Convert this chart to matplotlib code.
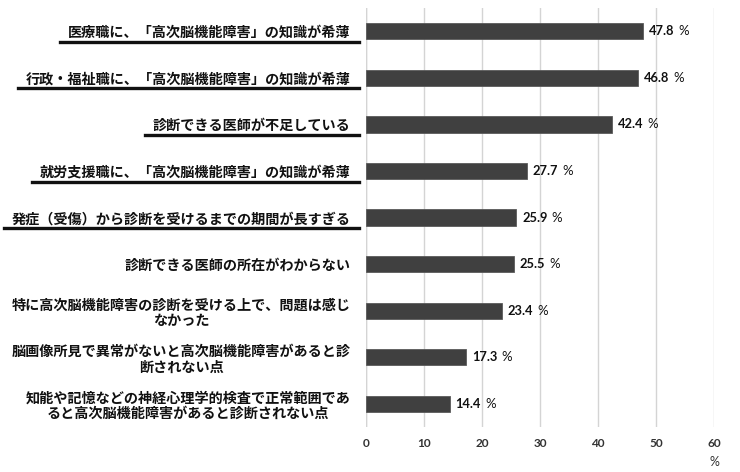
import matplotlib
matplotlib.use("Agg")
import matplotlib.pyplot as plt
from matplotlib.lines import Line2D

categories = [
    "医療職に、「高次脳機能障害」の知識が希薄",
    "行政・福祉職に、「高次脳機能障害」の知識が希薄",
    "診断できる医師が不足している",
    "就労支援職に、「高次脳機能障害」の知識が希薄",
    "発症（受傷）から診断を受けるまでの期間が長すぎる",
    "診断できる医師の所在がわからない",
    "特に高次脳機能障害の診断を受ける上で、問題は感じ\nなかった",
    "脳画像所見で異常がないと高次脳機能障害があると診\n断されない点",
    "知能や記憶などの神経心理学的検査で正常範囲であ\nると高次脳機能障害があると診断されない点",
]
values = [47.8, 46.8, 42.4, 27.7, 25.9, 25.5, 23.4, 17.3, 14.4]
underlined = [True, True, True, True, True, False, False, False, False]
xticks = [0, 10, 20, 30, 40, 50, 60]

plt.rcParams['font.family'] = ['Noto Sans CJK JP', 'DejaVu Sans']

fig = plt.figure(figsize=(7.4, 4.72), dpi=100)
ax = fig.add_axes([0.4946, 0.095, 0.4704, 0.888])

ypos = list(range(len(categories)))
ax.barh(ypos, values, height=0.35, color="#404040", edgecolor="#5a5a5a", linewidth=0.6, zorder=3)

ax.set_xlim(0, 60)
ax.set_ylim(len(categories) - 0.5, -0.5)
ax.set_xticks(xticks)
ax.set_xticklabels([str(t) for t in xticks], fontfamily=['Lato', 'DejaVu Sans'],
                   fontweight='bold', fontsize=8.5, color="#333333")
ax.tick_params(axis='x', length=0, pad=8)
ax.grid(axis='x', color="#d4d4d4", linewidth=1.0, zorder=0)
for s in ax.spines.values():
    s.set_visible(False)
ax.axvline(0, color="#d4d4d4", linewidth=1.0, zorder=1)

ax.set_yticks(ypos)
ax.set_yticklabels(categories, fontsize=10.2, fontweight='bold', color="#111111",
                   multialignment='center', linespacing=1.15)
ax.tick_params(axis='y', length=0, pad=11)

for y, v in zip(ypos, values):
    ax.annotate(f"{v:.1f}", (v, y), xytext=(4.3, 0), textcoords='offset points',
                va='center', ha='left', fontsize=9.3, fontweight='bold',
                fontfamily=['Lato', 'DejaVu Sans'], color="#111111")
    ax.annotate("%", (v, y), xytext=(25.5, 0), textcoords='offset points',
                va='center', ha='left', fontsize=9.5,
                fontfamily=['Lato', 'DejaVu Sans'], color="#111111")

ax.text(1.0, -0.084, "%", transform=ax.transAxes, ha='center', va='center',
        fontsize=9, fontfamily=['Lato', 'DejaVu Sans'], color="#333333")

fig.canvas.draw()
renderer = fig.canvas.get_renderer()
W, H = fig.bbox.width, fig.bbox.height
for lab, u in zip(ax.get_yticklabels(), underlined):
    if not u:
        continue
    bb = lab.get_window_extent(renderer)
    x0 = (bb.x0 - 8) / W
    x1 = (bb.x1 + 8) / W
    yy = (bb.y0 - 2) / H
    fig.add_artist(Line2D([x0, x1], [yy, yy], transform=fig.transFigure,
                          color="#111111", linewidth=2.4))

fig.savefig("out.png", dpi=100)
